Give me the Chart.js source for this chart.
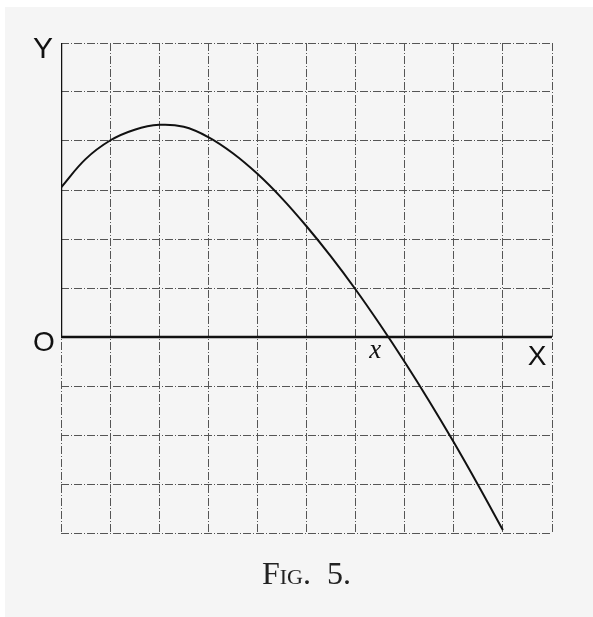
<!DOCTYPE html>
<html>
<head>
<meta charset="utf-8">
<script src="https://cdn.jsdelivr.net/npm/chart.js@4/dist/chart.umd.min.js"></script>
<style>
  html, body { margin: 0; padding: 0; background: #ffffff; }
  #wrap { position: absolute; left: 0; top: 0; width: 593px; height: 617px; }
</style>
</head>
<body>
<div id="wrap"><canvas id="fig5" width="593" height="617"></canvas></div>
<script>
// curve (grid units)
const curveX = [0, 0.5, 1, 1.5, 2, 2.5, 3, 3.5, 4, 4.5, 5, 5.5, 6, 6.5, 7, 7.5, 8, 8.5, 9];
const curveY = [3.05, 3.63, 4.01, 4.23, 4.33, 4.29, 4.08, 3.75, 3.33, 2.83, 2.26, 1.64, 0.97, 0.25, -0.51, -1.31, -2.15, -3.03, -3.94];

// axes of the figure
const xRange = [0, 10];
const yRange = [-4, 6];
const xAxisLine = [{ x: 0, y: 0 }, { x: 10, y: 0 }];
const yAxisLine = [{ x: 0, y: 0 }, { x: 0, y: 6 }];

// labels
const axisLabels = { y: 'Y', origin: 'O', x: 'X', root: 'x' };
const caption = 'Fig.  5.';

const points = curveX.map((x, i) => ({ x: x, y: curveY[i] }));

// paper background + text labels
const paperPlugin = {
  id: 'paper',
  beforeDraw(chart) {
    const ctx = chart.ctx;
    ctx.save();
    ctx.fillStyle = '#f5f5f5';
    ctx.fillRect(5, 7, chart.width - 5, chart.height - 7);
    ctx.restore();
  },
  afterDraw(chart) {
    const ctx = chart.ctx;
    const xs = chart.scales.x;
    const ys = chart.scales.y;
    const x0 = xs.getPixelForValue(0);
    const y0 = ys.getPixelForValue(0);
    ctx.save();
    ctx.fillStyle = '#111';
    ctx.textBaseline = 'middle';

    ctx.font = '30px "Liberation Sans", Arial, sans-serif';
    ctx.textAlign = 'center';
    ctx.fillText(axisLabels.y, x0 - 18, ys.getPixelForValue(6) + 7);

    ctx.font = '28px "Liberation Sans", Arial, sans-serif';
    ctx.fillText(axisLabels.origin, x0 - 17, y0 + 6);
    ctx.fillText(axisLabels.x, xs.getPixelForValue(10) - 15, y0 + 20);

    ctx.font = 'italic 27px "Liberation Serif", "Times New Roman", serif';
    ctx.fillText(axisLabels.root, xs.getPixelForValue(6.4), y0 + 14);

    ctx.font = 'small-caps 32px "Liberation Serif", "Times New Roman", serif';
    ctx.fillStyle = '#222';
    ctx.fillText(caption, (xs.left + xs.right) / 2, 576);
    ctx.restore();
  }
};

new Chart(document.getElementById('fig5'), {
  type: 'scatter',
  data: {
    datasets: [
      {
        label: 'curve',
        data: points,
        showLine: true,
        borderColor: '#111',
        borderWidth: 2,
        pointRadius: 0,
        tension: 0.4,
        fill: false
      },
      {
        label: 'OX',
        data: xAxisLine,
        showLine: true,
        borderColor: '#111',
        borderWidth: 2.5,
        pointRadius: 0
      },
      {
        label: 'OY',
        data: yAxisLine,
        showLine: true,
        borderColor: '#111',
        borderWidth: 2.5,
        pointRadius: 0
      }
    ]
  },
  options: {
    responsive: false,
    animation: false,
    layout: { padding: { left: 61, top: 43, right: 41, bottom: 84 } },
    plugins: {
      legend: { display: false },
      tooltip: { enabled: false }
    },
    scales: {
      x: {
        type: 'linear',
        min: xRange[0],
        max: xRange[1],
        ticks: { display: false, stepSize: 1 },
        grid: { color: '#555', lineWidth: 1, drawTicks: false },
        border: { display: false, dash: [8, 2, 1, 2] }
      },
      y: {
        type: 'linear',
        min: yRange[0],
        max: yRange[1],
        ticks: { display: false, stepSize: 1 },
        grid: { color: '#555', lineWidth: 1, drawTicks: false },
        border: { display: false, dash: [8, 2, 1, 2] }
      }
    }
  },
  plugins: [paperPlugin]
});
</script>
</body>
</html>
